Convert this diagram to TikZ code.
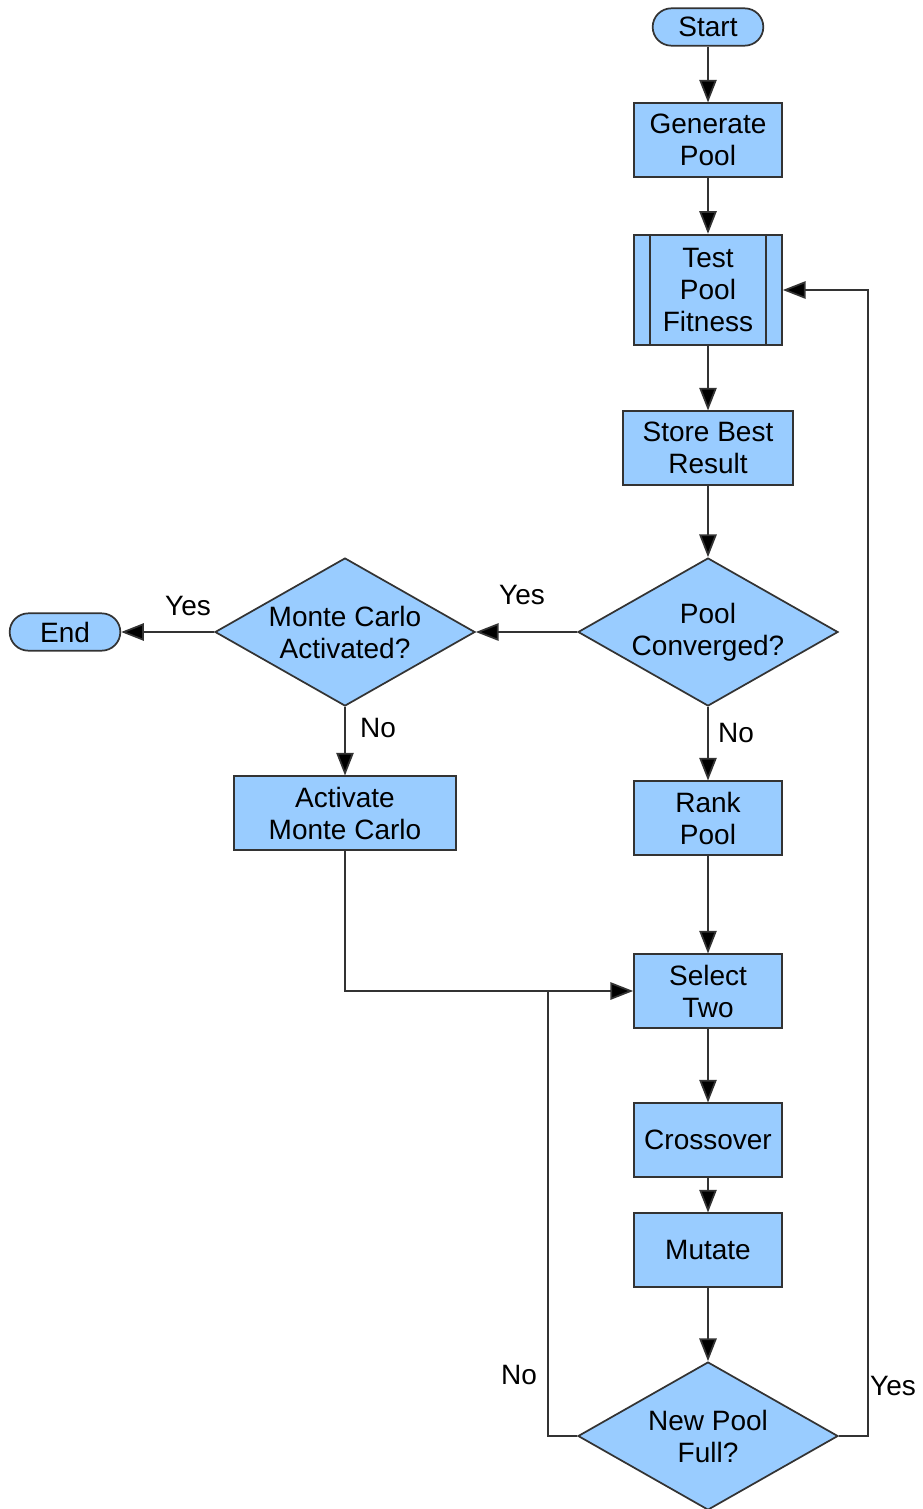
\documentclass[tikz,border=0pt]{standalone}
\usepackage{fontspec}
\setmainfont{Liberation Sans}
\usetikzlibrary{shapes.geometric,arrows.meta}
\definecolor{fillb}{HTML}{99CCFF}
\definecolor{lin}{HTML}{333333}
\begin{document}
\begin{tikzpicture}[x=0.75pt,y=-0.75pt,
 every node/.style={font=\fontsize{21}{24}\selectfont},
 box/.style={draw=lin,fill=fillb,line width=1.3pt,minimum width=111pt,minimum height=55pt,align=center,inner sep=0pt},
 term/.style={box,minimum width=83pt,minimum height=28pt,rounded corners=14pt},
 dia/.style={draw=lin,fill=fillb,line width=1.3pt,diamond,minimum width=195pt,minimum height=111pt,inner sep=0pt},
 conn/.style={draw=lin,line width=1.3pt},
 arr/.style={conn,-{Triangle[length=17pt,width=13pt,fill=black]}},
 lab/.style={inner sep=0pt}
]
\useasboundingbox (0,0) rectangle (923,1509);
\node[term] (start) at (708,27) {Start};
\node[box] (gen) at (708,140) {Generate\\Pool};
\node[box,minimum height=83pt] (test) at (708,290) {Test\\Pool\\Fitness};
\draw[conn] ([xshift=12.75pt]test.north west) -- ([xshift=12.75pt]test.south west);
\draw[conn] ([xshift=-12.75pt]test.north east) -- ([xshift=-12.75pt]test.south east);
\node[box,minimum width=128pt] (store) at (708,448) {Store Best\\Result};
\node[dia,label={[align=center]center:{Pool\\Converged?}}] (pc) at (708,632) {};
\node[dia,label={[align=center]center:{Monte Carlo\\Activated?}}] (mc) at (345,632) {};
\node[term] (end) at (65,632) {End};
\node[box,minimum width=167pt] (act) at (345,813) {Activate\\Monte Carlo};
\node[box] (rank) at (708,818) {Rank\\Pool};
\node[box] (sel) at (708,991) {Select\\Two};
\node[box] (cross) at (708,1140) {Crossover};
\node[box] (mut) at (708,1250) {Mutate};
\node[dia,label={[align=center]center:{New Pool\\Full?}}] (npf) at (708,1436) {};
\coordinate (jn) at (548,991);

\draw[arr] (start) -- (gen);
\draw[arr] (gen) -- (test);
\draw[arr] (test) -- (store);
\draw[arr] (store) -- (pc);
\draw[arr] (pc.west) -- (mc.east);
\draw[arr] (mc.west) -- (end.east);
\draw[arr] (mc.south) -- (act.north);
\draw[arr] (pc.south) -- (rank.north);
\draw[arr] (rank) -- (sel);
\draw[arr] (act.south) |- (sel.west);
\draw[conn] (npf.west) -| (jn);
\draw[arr] (npf.east) -- ++(29,0) |- (test.east);
\draw[arr] (sel) -- (cross);
\draw[arr] (cross) -- (mut);
\draw[arr] (mut) -- (npf);

\node[lab] (l1) at (522,595) {Yes};
\node[lab] (l2) at (188,606) {Yes};
\node[lab] (l3) at (378,728) {No};
\node[lab] (l4) at (736,733) {No};
\node[lab] (l5) at (519,1375) {No};
\node[lab] (l6) at (893,1386) {Yes};
\end{tikzpicture}
\end{document}
